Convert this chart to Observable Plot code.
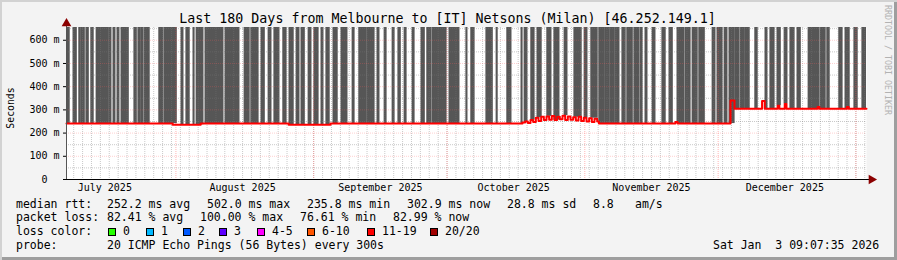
<!DOCTYPE html>
<html><head><meta charset="utf-8">
<script src="https://cdn.jsdelivr.net/npm/d3@7"></script>
<script src="https://cdn.jsdelivr.net/npm/@observablehq/plot@0.6"></script>
<style>
body{margin:0;background:#fff;}
#wrap{position:relative;width:897px;height:260px;background:#f3f3f3;font-family:"DejaVu Sans Mono",monospace;color:#000;overflow:hidden;}
#chart{position:absolute;left:0;top:0;}
.t{position:absolute;white-space:pre;line-height:1;}
#bevel{position:absolute;left:0;top:0;width:897px;height:260px;box-sizing:border-box;pointer-events:none;
 box-shadow: inset 2px 2px 0 #d2d2d2, inset -3px -3px 0 #9e9e9e;}
</style></head><body><div id="wrap"><div id="chart"></div></div>
<script>
// ---------------- data ----------------
const titleText = "Last 180 Days from Melbourne to [IT] Netsons (Milan) [46.252.149.1]";
const yLabel = "Seconds";
const sideText = "RRDTOOL / TOBI OETIKER";
const startISO = "2025-07-07T09:07:35Z";
const endISO = "2026-01-03T09:07:35Z";
const monthStarts = ["2025-07-01","2025-08-01","2025-09-01","2025-10-01","2025-11-01","2025-12-01","2026-01-01"];
const monthLabels = ["July 2025","August 2025","September 2025","October 2025","November 2025","December 2025"];
const yTicks = [0,100,200,300,400,500,600];
const yTickLabels = ["0\u00a0\u00a0","100 m","200 m","300 m","400 m","500 m","600 m"];
// median rtt (ms), day offset from start
const medianDays = [0, 23.9, 30.2, 50.0, 59.4, 102.6, 103.2, 103.8, 104.4, 105.0, 105.6, 106.2, 106.8, 107.4, 108.0, 108.6, 109.2, 109.8, 110.4, 111.0, 111.6, 112.2, 112.8, 113.4, 114.0, 114.6, 115.2, 115.8, 116.4, 117.0, 117.6, 118.2, 118.8, 119.4, 119.8, 137.0, 137.5, 149.4, 150.3, 156.5, 157.1, 160.0, 160.4, 161.6, 162.0, 169.0, 169.4, 175.6, 176.0, 180];
const medianMs   = [241, 236, 241, 236, 241, 246, 250, 244, 256, 248, 266, 252, 270, 256, 272, 258, 274, 256, 270, 260, 275, 256, 272, 258, 268, 254, 270, 252, 266, 250, 264, 248, 262, 250, 241, 248, 241, 340, 305, 338, 305, 318, 305, 325, 305, 312, 305, 312, 305, 305];
// smoke columns (day offsets from start)
const smokeBars = [[0.0,0.7],[1.6,2.3],[2.9,3.2],[3.4,4.1],[4.5,5.0],[5.6,6.1],[6.8,9.5],[9.7,10.1],[10.6,11.0],[11.5,11.9],[12.4,14.0],[15.3,15.8],[16.2,16.7],[16.9,17.3],[17.6,18.7],[20.9,21.8],[22.1,24.8],[25.9,26.3],[27.0,27.7],[28.6,28.8],[29.3,30.8],[31.3,35.3],[35.8,38.9],[40.1,41.2],[41.6,43.2],[43.9,44.6],[45.5,46.1],[46.8,47.9],[48.8,49.5],[50.2,51.1],[51.8,52.4],[52.9,53.6],[54.5,55.1],[55.8,56.7],[57.4,57.8],[58.5,59.2],[60.1,61.0],[61.9,63.2],[64.4,64.8],[65.9,67.5],[67.7,69.3],[70.0,70.4],[71.6,72.0],[73.4,73.8],[74.7,75.2],[76.1,76.5],[77.9,78.3],[79.9,80.6],[81.2,82.1],[82.4,85.5],[86.2,88.4],[90.0,90.2],[91.1,91.8],[94.5,95.9],[96.8,97.0],[99.2,100.1],[102.4,102.6],[103.1,103.7],[104.6,105.3],[106.0,106.9],[108.2,109.1],[109.8,110.9],[112.1,112.7],[114.3,115.9],[116.6,117.2],[118.1,119.5],[119.9,121.1],[121.3,122.2],[122.4,123.3],[123.5,124.4],[125.1,125.8],[126.2,127.4],[127.8,128.9],[129.2,129.6],[130.3,130.7],[131.9,132.5],[134.1,134.8],[135.7,136.4],[137.5,139.0],[139.3,140.4],[140.9,142.0],[142.4,143.6],[145.4,146.0],[146.5,147.6],[148.1,148.7],[149.2,150.3],[150.5,151.4],[151.7,152.6],[152.8,153.7],[155.0,155.5],[157.3,157.7],[158.4,159.3],[160.0,160.7],[161.6,162.2],[162.9,163.8],[164.5,165.2],[167.0,169.4],[169.7,170.8],[171.2,171.7],[173.9,174.6],[175.3,176.2],[177.3,178.0],[179.1,180.0]];
const rttLabel = "median rtt:";
const rttStats = ["252.2 ms avg","502.0 ms max","235.8 ms min","302.9 ms now","28.8 ms sd","8.8","am/s"];
const lossLabel = "packet loss:";
const lossStats = ["82.41 % avg","100.00 % max","76.61 % min","82.99 % now"];
const colorLabel = "loss color:";
const lossLabels = ["0","1","2","3","4-5","6-10","11-19","20/20"];
const lossColors = ["#26ff00","#00b8ff","#0059ff","#5e00ff","#ff00ff","#ff5500","#ff0000","#a10000"];
const probeLabel = "probe:";
const probeText = "20 ICMP Echo Pings (56 Bytes) every 300s";
const stampText = "Sat Jan  3 09:07:35 2026";

// ---------------- build ----------------
const DAY = 864e5;
const T0 = new Date(startISO), T1 = new Date(endISO);
const at = d => new Date(+T0 + d * DAY);
const median = medianDays.map((d, i) => ({t: at(d), v: medianMs[i]}));
const bis = d3.bisector(d => d).right;
const medianAt = d => medianMs[Math.max(0, bis(medianDays, d) - 1)];
const smoke = smokeBars.map(([a, b]) => ({t1: at(a), t2: at(b), lo: medianAt(a), hi: 655}));
const monthDates = monthStarts.map(s => new Date(s + "T00:00:00Z"));
const gridMonths = monthDates.filter(d => d > T0 && d < T1);
const labelDates = monthDates.map(d => d3.utcDay.offset(d, 15)).filter(d => d > T0 && d < T1);
const minorDays = d3.utcDay.range(d3.utcDay.offset(d3.utcDay.floor(T0), 2), T1, 2);
const minorY = d3.range(50, 655, 100);
const majorY = yTicks.filter(v => v > 0);

const chart = Plot.plot({
  width: 897, height: 260,
  marginLeft: 66, marginRight: 31, marginTop: 27, marginBottom: 81,
  style: "background: transparent; font-family: 'DejaVu Sans Mono', monospace; font-size: 10px; color: #000; overflow: visible;",
  x: {type: "utc", domain: [T0, T1]},
  y: {domain: [0, 655]},
  marks: [
    Plot.frame({fill: "#fff", stroke: null}),
    Plot.rectY(smoke, {x1: "t1", x2: "t2", y1: "lo", y2: "hi", fill: "#565656", insetLeft: -0.6, insetRight: -0.6, clip: true}),
    Plot.ruleY(minorY, {stroke: "rgba(120,120,120,0.4)", strokeDasharray: "1,1", strokeWidth: 1}),
    Plot.ruleX(minorDays, {stroke: "rgba(120,120,120,0.4)", strokeDasharray: "1,1", strokeWidth: 1}),
    Plot.ruleY(majorY, {stroke: "rgba(255,90,90,0.28)", strokeDasharray: "1,1", strokeWidth: 1}),
    Plot.ruleX(gridMonths, {stroke: "rgba(255,70,70,0.4)", strokeDasharray: "1,1", strokeWidth: 1}),
    Plot.line(median, {x: "t", y: "v", stroke: "#ff0000", strokeWidth: 2, curve: "step-after"}),
    Plot.ruleY([0], {stroke: "#000", strokeWidth: 1, insetLeft: -3, insetRight: -4}),
    Plot.ruleX([T0], {stroke: "#555", strokeWidth: 1, insetTop: -4}),
    Plot.axisY(yTicks, {tickSize: 3, tickPadding: 4, fontSize: 10, tickFormat: (d, i) => yTickLabels[i], label: null}),
    Plot.axisX(labelDates, {tickSize: 0, tickPadding: 4, fontSize: 10, tickFormat: (d, i) => monthLabels[i], label: null}),
    Plot.dot([0], {frameAnchor: "top-left", symbol: "triangle", r: 3.6, fill: "#8b0000", stroke: null, dy: -4}),
    Plot.dot([0], {frameAnchor: "bottom-right", symbol: "triangle", rotate: 90, r: 3.6, fill: "#8b0000", stroke: null, dx: 5})
  ]
});
document.getElementById("chart").appendChild(chart);

// ---------------- text ----------------
const wrap = document.getElementById("wrap");
function txt(s, x, baseline, size, extra) {
  const el = document.createElement("div");
  el.className = "t";
  el.textContent = s;
  el.style.fontSize = size + "px";
  el.style.left = x + "px";
  el.style.top = (baseline - 0.846 * size) + "px";
  if (extra) Object.assign(el.style, extra);
  wrap.appendChild(el);
  return el;
}
txt(titleText, 0, 23, 13.3, {width: "895px", textAlign: "center"});
const yl = txt(yLabel, 0, 0, 9.8, {});
yl.style.left = "11px"; yl.style.top = "108px";
yl.style.transform = "translate(-50%,-50%) rotate(-90deg)";
const st = txt(sideText, 0, 0, 8.3, {color: "#b2b2b2"});
st.style.left = "888px"; st.style.top = "60px";
st.style.transform = "translate(-50%,-50%) rotate(90deg)";

const fs = 11.5;
const rows = [208.5, 222, 235.7, 249.3];
txt(rttLabel, 16, rows[0], fs);
[107, 207, 307, 407, 507, 593, 635].forEach((x, i) => txt(rttStats[i], x, rows[0], fs));
txt(lossLabel, 16, rows[1], fs);
[107, 200, 300, 393].forEach((x, i) => txt(lossStats[i], x, rows[1], fs));
txt(colorLabel, 16, rows[2], fs);
const boxX = [108, 146, 183, 219, 257, 307, 367, 430];
lossLabels.forEach((lab, i) => {
  const b = document.createElement("div");
  Object.assign(b.style, {position: "absolute", left: boxX[i] + "px", top: "227.5px", width: "8px", height: "8px",
    background: lossColors[i], boxSizing: "border-box", border: "1px solid #000"});
  wrap.appendChild(b);
  txt(lab, boxX[i] + 15, rows[2], fs);
});
txt(probeLabel, 16, rows[3], fs);
txt(probeText, 107, rows[3], fs);
txt(stampText, 713, rows[3], fs);

const bevel = document.createElement("div");
bevel.id = "bevel";
wrap.appendChild(bevel);
</script>
</body></html>
